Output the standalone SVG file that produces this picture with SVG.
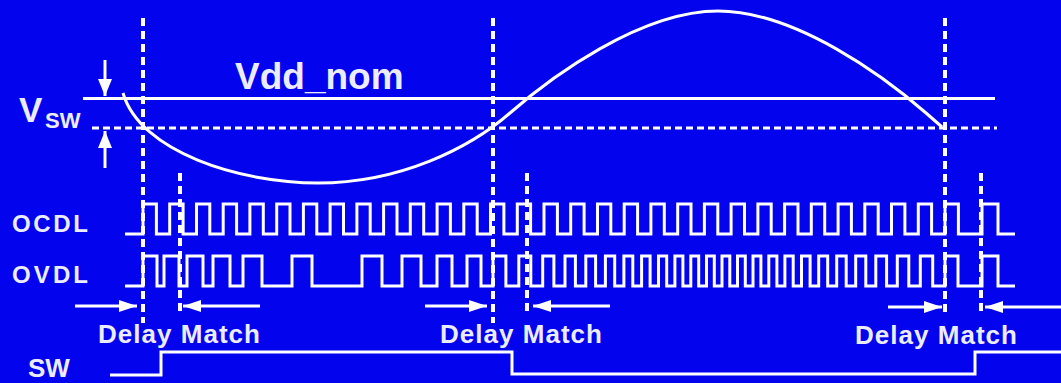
<svg xmlns="http://www.w3.org/2000/svg" width="1061" height="383" viewBox="0 0 1061 383">
<defs>
<style>
.ln{fill:none;stroke:#FFFFFF;stroke-width:3}
.vd{fill:none;stroke:#FFFFFF;stroke-width:4;stroke-dasharray:8 5}
.hd{fill:none;stroke:#FFFFFF;stroke-width:3;stroke-dasharray:7 4}
.wave{fill:none;stroke:#FFFFFF;stroke-width:3;stroke-linejoin:miter}
.t{font-family:"Liberation Sans",Arial,Helvetica,sans-serif;font-weight:bold;fill:#ECECFF}
</style>
<marker id="ah" viewBox="0 0 18 12" refX="18" refY="6" markerWidth="18" markerHeight="12" markerUnits="userSpaceOnUse" orient="auto"><path d="M0,0 L18,6 L0,12 Z" fill="#FFFFFF"/></marker>
<marker id="av" viewBox="0 0 17 14" refX="17" refY="7" markerWidth="17" markerHeight="14" markerUnits="userSpaceOnUse" orient="auto"><path d="M0,0 L17,7 L0,14 Z" fill="#FFFFFF"/></marker>
</defs>
<rect x="0" y="0" width="1061" height="383" fill="#0303EE"/>

<g id="reference-lines">
<line class="ln" x1="83" y1="98.5" x2="995" y2="98.5"/>
<line class="hd" x1="92" y1="128" x2="997" y2="128"/>
<line class="vd" x1="143" y1="18" x2="143" y2="323"/>
<line class="vd" x1="180" y1="173" x2="180" y2="316"/>
<line class="vd" x1="493" y1="18" x2="493" y2="323"/>
<line class="vd" x1="527" y1="173" x2="527" y2="316"/>
<line class="vd" x1="945" y1="18" x2="945" y2="312"/>
<line class="vd" x1="981" y1="173" x2="981" y2="316"/>
</g>

<g id="supply-wave">
<path class="ln" d="M123,93 C140,152 240,183 318,183 C400,183 470,148 510,113 C550,78 640,11 718,11 C796,11 886,78 926,113 L942,127"/>
</g>

<g id="ocdl">
<path class="wave" d="M125,234 H143 V204 H156.4 V234 H169.7 V204 H183.1 V234 H196.5 V204 H209.8 V234 H223.2 V204 H236.6 V234 H249.9 V204 H263.3 V234 H276.7 V204 H290 V234 H303.4 V204 H316.8 V234 H330.1 V204 H343.5 V234 H356.9 V204 H370.2 V234 H383.6 V204 H397 V234 H410.3 V204 H423.7 V234 H437.1 V204 H450.4 V234 H463.8 V204 H477.2 V234 H490.5 V204 H503.9 V234 H517.3 V204 H530.6 V234 H544 V204 H557.4 V234 H570.7 V204 H584.1 V234 H597.5 V204 H610.8 V234 H624.2 V204 H637.6 V234 H650.9 V204 H664.3 V234 H677.7 V204 H691 V234 H704.4 V204 H717.8 V234 H731.1 V204 H744.5 V234 H757.9 V204 H771.2 V234 H784.6 V204 H798 V234 H811.3 V204 H824.7 V234 H838.1 V204 H851.4 V234 H864.8 V204 H878.2 V234 H891.5 V204 H904.9 V234 H918.3 V204 H931.6 V234 H945 V204 H958.4 V234 H982 V204 H998 V234 H1015"/>
</g>

<g id="ovdl">
<path class="wave" d="M125,286 H143 V256 H157 V286 H164 V256 H179 V286 H187 V256 H203 V286 H213 V256 H230 V286 H243 V256 H262 V286 H292 V256 H312 V286 H362 V256 H382 V286 H402 V256 H421 V286 H437 V256 H452 V286 H467 V256 H481 V286 H493 V256 H505.9 V286 H518.8 V256 H530.8 V286 H542.7 V256 H553.9 V286 H565 V256 H575.4 V286 H585.8 V256 H595.6 V286 H605.4 V256 H614.7 V286 H623.9 V256 H632.8 V286 H641.6 V256 H650.1 V286 H658.5 V256 H666.7 V286 H674.9 V256 H682.9 V286 H690.8 V256 H698.7 V286 H706.5 V256 H714.3 V286 H722 V256 H729.8 V286 H737.5 V256 H745.3 V286 H753 V256 H760.9 V286 H768.8 V256 H776.9 V286 H784.9 V256 H793.2 V286 H801.5 V256 H810.1 V286 H818.7 V256 H827.7 V286 H836.7 V256 H846.2 V286 H855.7 V256 H865.8 V286 H875.8 V256 H886.6 V286 H897.3 V256 H908.8 V286 H920.3 V256 H932.7 V286 H945 V256 H958 V286 H982 V256 H998 V286 H1015"/>
</g>

<g id="sw">
<path class="wave" d="M110,375 H161 V352 H512 V374 H975 V352 H1061"/>
</g>

<g id="connectors">
<line class="ln" x1="105" y1="60" x2="105" y2="96" marker-end="url(#av)"/>
<line class="ln" x1="105" y1="168" x2="105" y2="131" marker-end="url(#av)"/>
<line class="ln" x1="75" y1="306" x2="137" y2="306" marker-end="url(#ah)"/>
<line class="ln" x1="260" y1="306" x2="183" y2="306" marker-end="url(#ah)"/>
<line class="ln" x1="425" y1="306" x2="487" y2="306" marker-end="url(#ah)"/>
<line class="ln" x1="610" y1="306" x2="533" y2="306" marker-end="url(#ah)"/>
<line class="ln" x1="888" y1="307" x2="942" y2="307" marker-end="url(#ah)"/>
<line class="ln" x1="1061" y1="307" x2="985" y2="307" marker-end="url(#ah)"/>
</g>

<g id="labels">
<text class="t" x="235" y="89" font-size="37">Vdd_nom</text>
<text class="t" x="19" y="122" font-size="35">V<tspan font-size="22" x="45" y="128">SW</tspan></text>
<text class="t" x="12" y="232" font-size="24" textLength="76" lengthAdjust="spacing">OCDL</text>
<text class="t" x="12" y="283" font-size="24" textLength="76" lengthAdjust="spacing">OVDL</text>
<text class="t" x="28" y="377" font-size="26">SW</text>
<text class="t" x="98" y="343" font-size="26" textLength="162" lengthAdjust="spacing">Delay Match</text>
<text class="t" x="440" y="343" font-size="26" textLength="162" lengthAdjust="spacing">Delay Match</text>
<text class="t" x="855" y="344" font-size="26" textLength="162" lengthAdjust="spacing">Delay Match</text>
</g>
</svg>
